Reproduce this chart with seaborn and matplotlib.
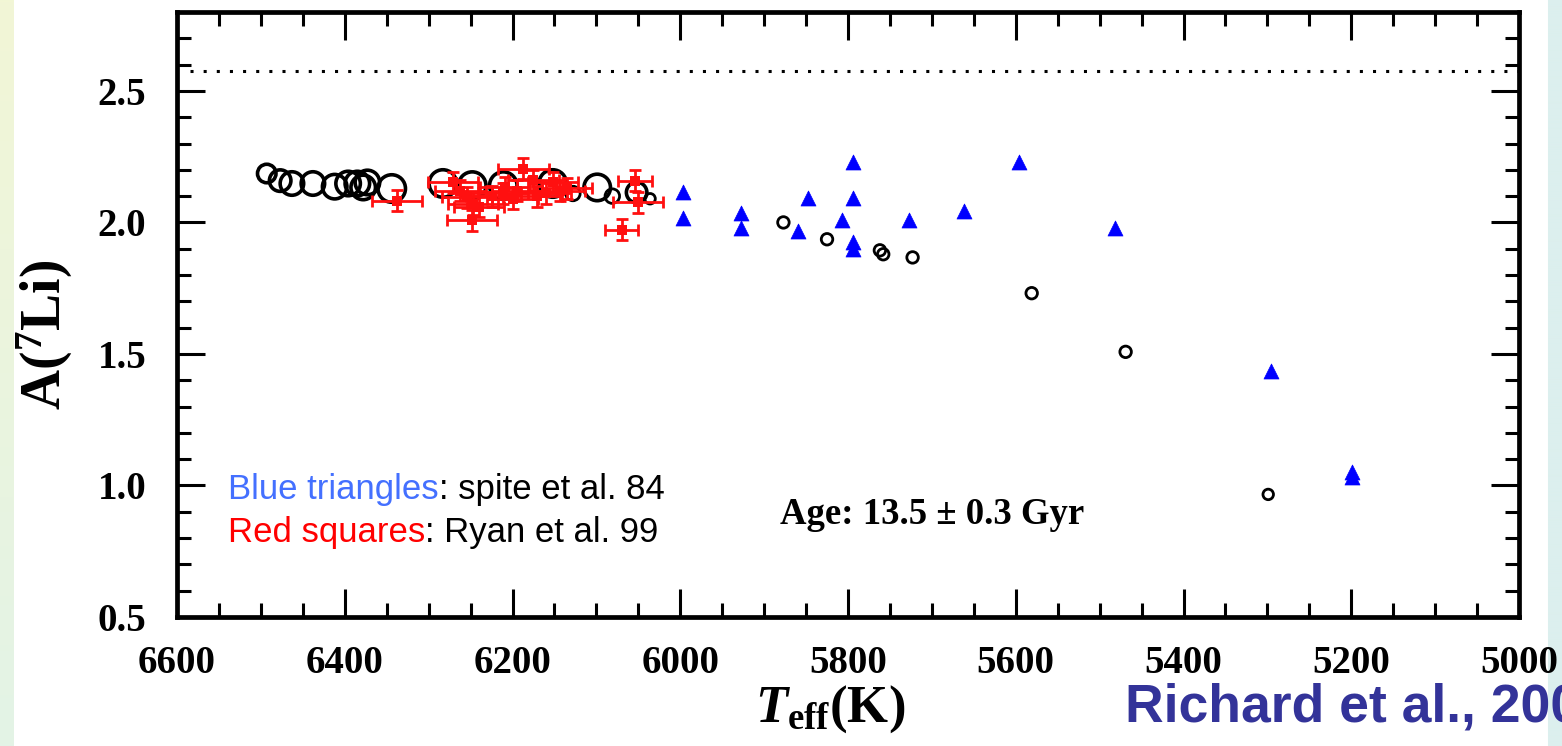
import numpy as np
import pandas as pd
import matplotlib
matplotlib.use("Agg")
import matplotlib.pyplot as plt
from matplotlib.ticker import MultipleLocator
from matplotlib.colors import to_rgb
import seaborn as sns

# ---- data -------------------------------------------------------------
# Model stars of the isochrone (open circles)
model_teff = [6493, 6477, 6463, 6438, 6412, 6396, 6385, 6378, 6373, 6344,
              6283, 6248, 6211, 6152, 6128, 6099, 6081, 6052, 6036,
              5877, 5825, 5762, 5758, 5723, 5581, 5469, 5299]
model_li = [2.186, 2.159, 2.148, 2.148, 2.136, 2.148, 2.148, 2.133, 2.152, 2.129,
            2.148, 2.140, 2.140, 2.148, 2.110, 2.133, 2.100, 2.114, 2.090,
            2.000, 1.936, 1.894, 1.879, 1.867, 1.731, 1.508, 0.966]

# Spite et al. 1984 (blue triangles)
spite_teff = [5997, 5997, 5928, 5928, 5860, 5848, 5807, 5794, 5794, 5794, 5794,
              5727, 5662, 5596, 5482, 5296, 5199, 5199]
spite_li = [2.114, 2.015, 2.034, 1.980, 1.966, 2.091, 2.008, 2.231, 2.091, 1.924, 1.900,
            2.008, 2.045, 2.231, 1.980, 1.436, 1.053, 1.034]

# Ryan et al. 1999 (red squares with error bars)
ryan_teff = [6338, 6271, 6262, 6254, 6248, 6247, 6240, 6225, 6211, 6209, 6200,
             6195, 6187, 6175, 6171, 6160, 6152, 6143, 6135, 6070, 6054, 6050]
ryan_li = [2.083, 2.152, 2.120, 2.095, 2.008, 2.070, 2.060, 2.100, 2.110, 2.133, 2.090,
           2.120, 2.205, 2.160, 2.100, 2.110, 2.152, 2.120, 2.130, 1.973, 2.159, 2.076]
ryan_teff_err = [30, 30, 30, 30, 30, 30, 30, 30, 30, 30, 30,
                 30, 30, 30, 30, 30, 30, 30, 30, 20, 20, 30]
ryan_li_err = [0.04] * 22

primordial_li = 2.575
x_ticks = [6600, 6400, 6200, 6000, 5800, 5600, 5400, 5200, 5000]
y_ticks = [0.5, 1.0, 1.5, 2.0, 2.5]

# ---- styling ---------------------------------------------------------
# marker outer diameters (pixels) of the model circles
model_diam_px = [22, 25, 27, 27, 28, 28, 28, 28, 28, 31,
                 31, 31, 31, 31, 18, 30, 18, 24, 14,
                 15, 15, 15, 15, 15, 15, 15, 14]

sns.set_style("ticks")
plt.rcParams["font.family"] = ["Liberation Serif", "DejaVu Serif"]
plt.rcParams["mathtext.fontset"] = "custom"
plt.rcParams["mathtext.rm"] = "Liberation Serif:bold"
plt.rcParams["mathtext.bf"] = "Liberation Serif:bold"
plt.rcParams["mathtext.it"] = "Liberation Serif:italic:bold"
for key in ["text.color", "axes.labelcolor", "xtick.color", "ytick.color"]:
    plt.rcParams[key] = "black"

W, H, DPI = 1562, 746, 100
fig = plt.figure(figsize=(W / DPI, H / DPI), dpi=DPI, facecolor="white")

# slide background strips at both edges
bg = fig.add_axes([0, 0, 1, 1], zorder=-10)
bg.axis("off")
img = np.ones((200, W, 3))
top_l, bot_l = np.array(to_rgb("#f2f6d6")), np.array(to_rgb("#e3f3e6"))
t = np.linspace(0, 1, 200)[:, None]
left_col = top_l * (1 - t) + bot_l * t
img[:, :14, :] = left_col[:, None, :]
img[:, 1548:, :] = np.array(to_rgb("#dcefee"))
bg.imshow(img, aspect="auto", extent=[0, 1, 0, 1], interpolation="bilinear")
bg.set_xlim(0, 1)
bg.set_ylim(0, 1)

ax_l, ax_r, ax_b, ax_t = 177, 1519, 617, 12
ax = fig.add_axes([ax_l / W, (H - ax_b) / H, (ax_r - ax_l) / W, (ax_b - ax_t) / H])
ax.set_facecolor("white")

px2pt = 72.0 / DPI

model = pd.DataFrame({"teff": model_teff, "li": model_li})
sizes = [((d - 3.5) * px2pt) ** 2 for d in model_diam_px]
lws = [2.6 if d > 20 else 2.0 for d in model_diam_px]
sns.scatterplot(data=model, x="teff", y="li", ax=ax, marker="o", s=sizes,
                facecolors="none", edgecolor="black", linewidths=lws, zorder=3,
                legend=False)

spite = pd.DataFrame({"teff": spite_teff, "li": spite_li})
sns.scatterplot(data=spite, x="teff", y="li", ax=ax, marker="^", s=(15 * px2pt) ** 2,
                color="#0000ff", edgecolor="#0000ff", linewidth=0.5, zorder=4,
                legend=False)

ryan = pd.DataFrame({"teff": ryan_teff, "li": ryan_li,
                     "dt": ryan_teff_err, "dl": ryan_li_err})
ax.errorbar(ryan["teff"], ryan["li"], xerr=ryan["dt"], yerr=ryan["dl"], fmt="none",
            ecolor="#ff1010", elinewidth=2.0, capsize=4.5, capthick=2.0, zorder=5)
sns.scatterplot(data=ryan, x="teff", y="li", ax=ax, marker="s", s=(10 * px2pt) ** 2,
                color="#ff1010", edgecolor="#ff1010", linewidth=0, zorder=6,
                legend=False)

# primordial (WMAP) lithium level, dotted
ax.hlines(primordial_li, 6585, 5000, color="black", lw=2.2, ls=(0, (1, 3.3)), zorder=2)

# ---- axes ---------------------------------------------------------------
ax.set_xlim(6600, 5000)
ax.set_ylim(0.5, 2.8)
ax.set_xticks(x_ticks)
ax.set_xticklabels([str(v) for v in x_ticks])
ax.set_yticks(y_ticks)
ax.set_yticklabels([f"{v:.1f}" for v in y_ticks])
ax.xaxis.set_minor_locator(MultipleLocator(50))
ax.yaxis.set_minor_locator(MultipleLocator(0.1))
ax.tick_params(which="both", direction="in", top=True, right=True, width=2.2,
               color="black")
ax.tick_params(which="major", length=20)
ax.tick_params(which="minor", length=10)
ax.tick_params(axis="x", which="major", pad=20, labelsize=28, labelcolor="black")
ax.tick_params(axis="y", which="major", pad=22, labelsize=28, labelcolor="black")
for lab in ax.get_xticklabels() + ax.get_yticklabels():
    lab.set_fontweight("bold")
for sp in ax.spines.values():
    sp.set_linewidth(3.4)
    sp.set_color("black")

ax.set_xlabel(r"$T_{\mathrm{eff}}$(K)", fontsize=38, fontweight="bold")
ax.xaxis.set_label_coords((830 - ax_l) / (ax_r - ax_l), -(683 - ax_b) / (ax_b - ax_t))
ax.set_ylabel(r"A($^{\mathrm{7}}$Li)", fontsize=40, fontweight="bold")
ax.yaxis.set_label_coords(-(ax_l - 75) / (ax_r - ax_l), (ax_b - 335) / (ax_b - ax_t))

# ---- annotations --------------------------------------------------------
sans = ["Liberation Sans", "DejaVu Sans"]
t1 = ax.text((228 - ax_l) / (ax_r - ax_l), (ax_b - 499) / (ax_b - ax_t), "Blue triangles",
             transform=ax.transAxes, color="#4470ff", fontsize=25, family=sans,
             va="baseline", ha="left")
ax.annotate(": spite et al. 84", xy=(1, 0), xycoords=t1, color="black",
            fontsize=25, family=sans, va="bottom", ha="left")
t2 = ax.text((228 - ax_l) / (ax_r - ax_l), (ax_b - 542) / (ax_b - ax_t), "Red squares",
             transform=ax.transAxes, color="#ff0000", fontsize=25, family=sans,
             va="baseline", ha="left")
ax.annotate(": Ryan et al. 99", xy=(1, 0), xycoords=t2, color="black",
            fontsize=25, family=sans, va="bottom", ha="left")

ax.text((780 - ax_l) / (ax_r - ax_l), (ax_b - 524) / (ax_b - ax_t),
        "Age: 13.5 \u00b1 0.3 Gyr", transform=ax.transAxes, fontsize=26.5,
        fontweight="bold", va="baseline", ha="left")

fig.text(1125 / W, (H - 722) / H, "Richard et al., 2005", color="#333399",
         fontsize=38.5, fontweight="bold", family=sans, va="baseline", ha="left")

fig.savefig("out.png", dpi=DPI, facecolor=fig.get_facecolor())
